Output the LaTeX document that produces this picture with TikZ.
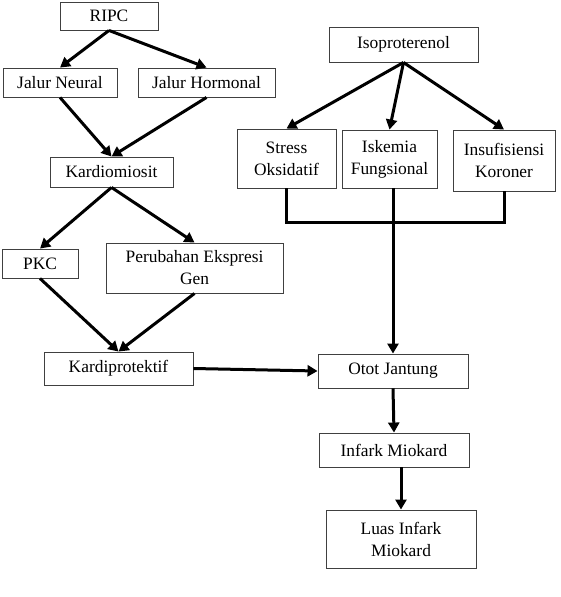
\documentclass[tikz,border=0pt]{standalone}
\usepackage{fontspec}
\setmainfont{Liberation Serif}
\usetikzlibrary{arrows.meta}
\begin{document}
\begin{tikzpicture}[x=1pt,y=-1pt,
  box/.style={draw=black!75, line width=0.9pt, inner sep=0pt, align=center,
    font=\fontsize{17.4}{22}\selectfont},
  arr/.style={line width=3pt, -{Triangle[length=10pt,width=11pt]}},
  conn/.style={line width=3pt}]
\useasboundingbox (0,0) rectangle (561,597);
\node[box, minimum width=98pt, minimum height=28pt] (ripc) at (109,16) {RIPC};
\node[box, minimum width=114pt, minimum height=29pt] (jn) at (60,82.5) {Jalur Neural};
\node[box, minimum width=137pt, minimum height=29pt] (jh) at (206.5,82.5) {Jalur Hormonal};
\node[box, minimum width=123pt, minimum height=30pt] (km) at (111.5,172) {Kardiomiosit};
\node[box, minimum width=76pt, minimum height=29pt] (pkc) at (40,263.5) {PKC};
\node[box, minimum width=177pt, minimum height=50pt] (peg) at (194.5,268) {Perubahan Ekspresi\\Gen};
\node[box, minimum width=149pt, minimum height=33pt] (kp) at (118.5,368.5) {Kardiprotektif};
\node[box, minimum width=149pt, minimum height=35pt] (iso) at (403.5,44.5) {Isoproterenol};
\node[box, minimum width=99pt, minimum height=59pt] (so) at (286.5,158.5) {Stress\\Oksidatif};
\node[box, minimum width=95pt, minimum height=58pt] (isk) at (389.5,159) {Iskemia\\Fungsional};
\node[box, minimum width=102pt, minimum height=61pt] (ins) at (504,160.5) {Insufisiensi\\Koroner};
\node[box, minimum width=150pt, minimum height=34pt] (otot) at (393,371) {Otot Jantung};
\node[box, minimum width=150pt, minimum height=34pt] (im) at (394,450) {Infark Miokard};
\node[box, minimum width=150pt, minimum height=58pt] (lim) at (401,539) {Luas Infark\\Miokard};
\coordinate (barY) at (0,222);
\draw[arr] (ripc.south) -- (jn.north);
\draw[arr] (ripc.south) -- (jh.north);
\draw[arr] (jn.south) -- (km.north);
\draw[arr] (jh.south) -- (km.north);
\draw[arr] (km.south) -- (pkc.north);
\draw[arr] (km.south) -- (peg.north);
\draw[arr] (pkc.south) -- (kp.north);
\draw[arr] (peg.south) -- (kp.north);
\draw[arr] (iso.south) -- (so.north);
\draw[arr] (iso.south) -- (isk.north);
\draw[arr] (iso.south) -- (ins.north);
\draw[conn] (so.south) -- (so.south |- barY) -- (ins.south |- barY) -- (ins.south);
\draw[arr] (isk.south -| otot.north) -- (otot.north);
\draw[arr] (kp.east) -- (otot.west);
\draw[arr] (otot.south) -- (im.north);
\draw[arr] (im.south -| lim.north) -- (lim.north);
\end{tikzpicture}
\end{document}
